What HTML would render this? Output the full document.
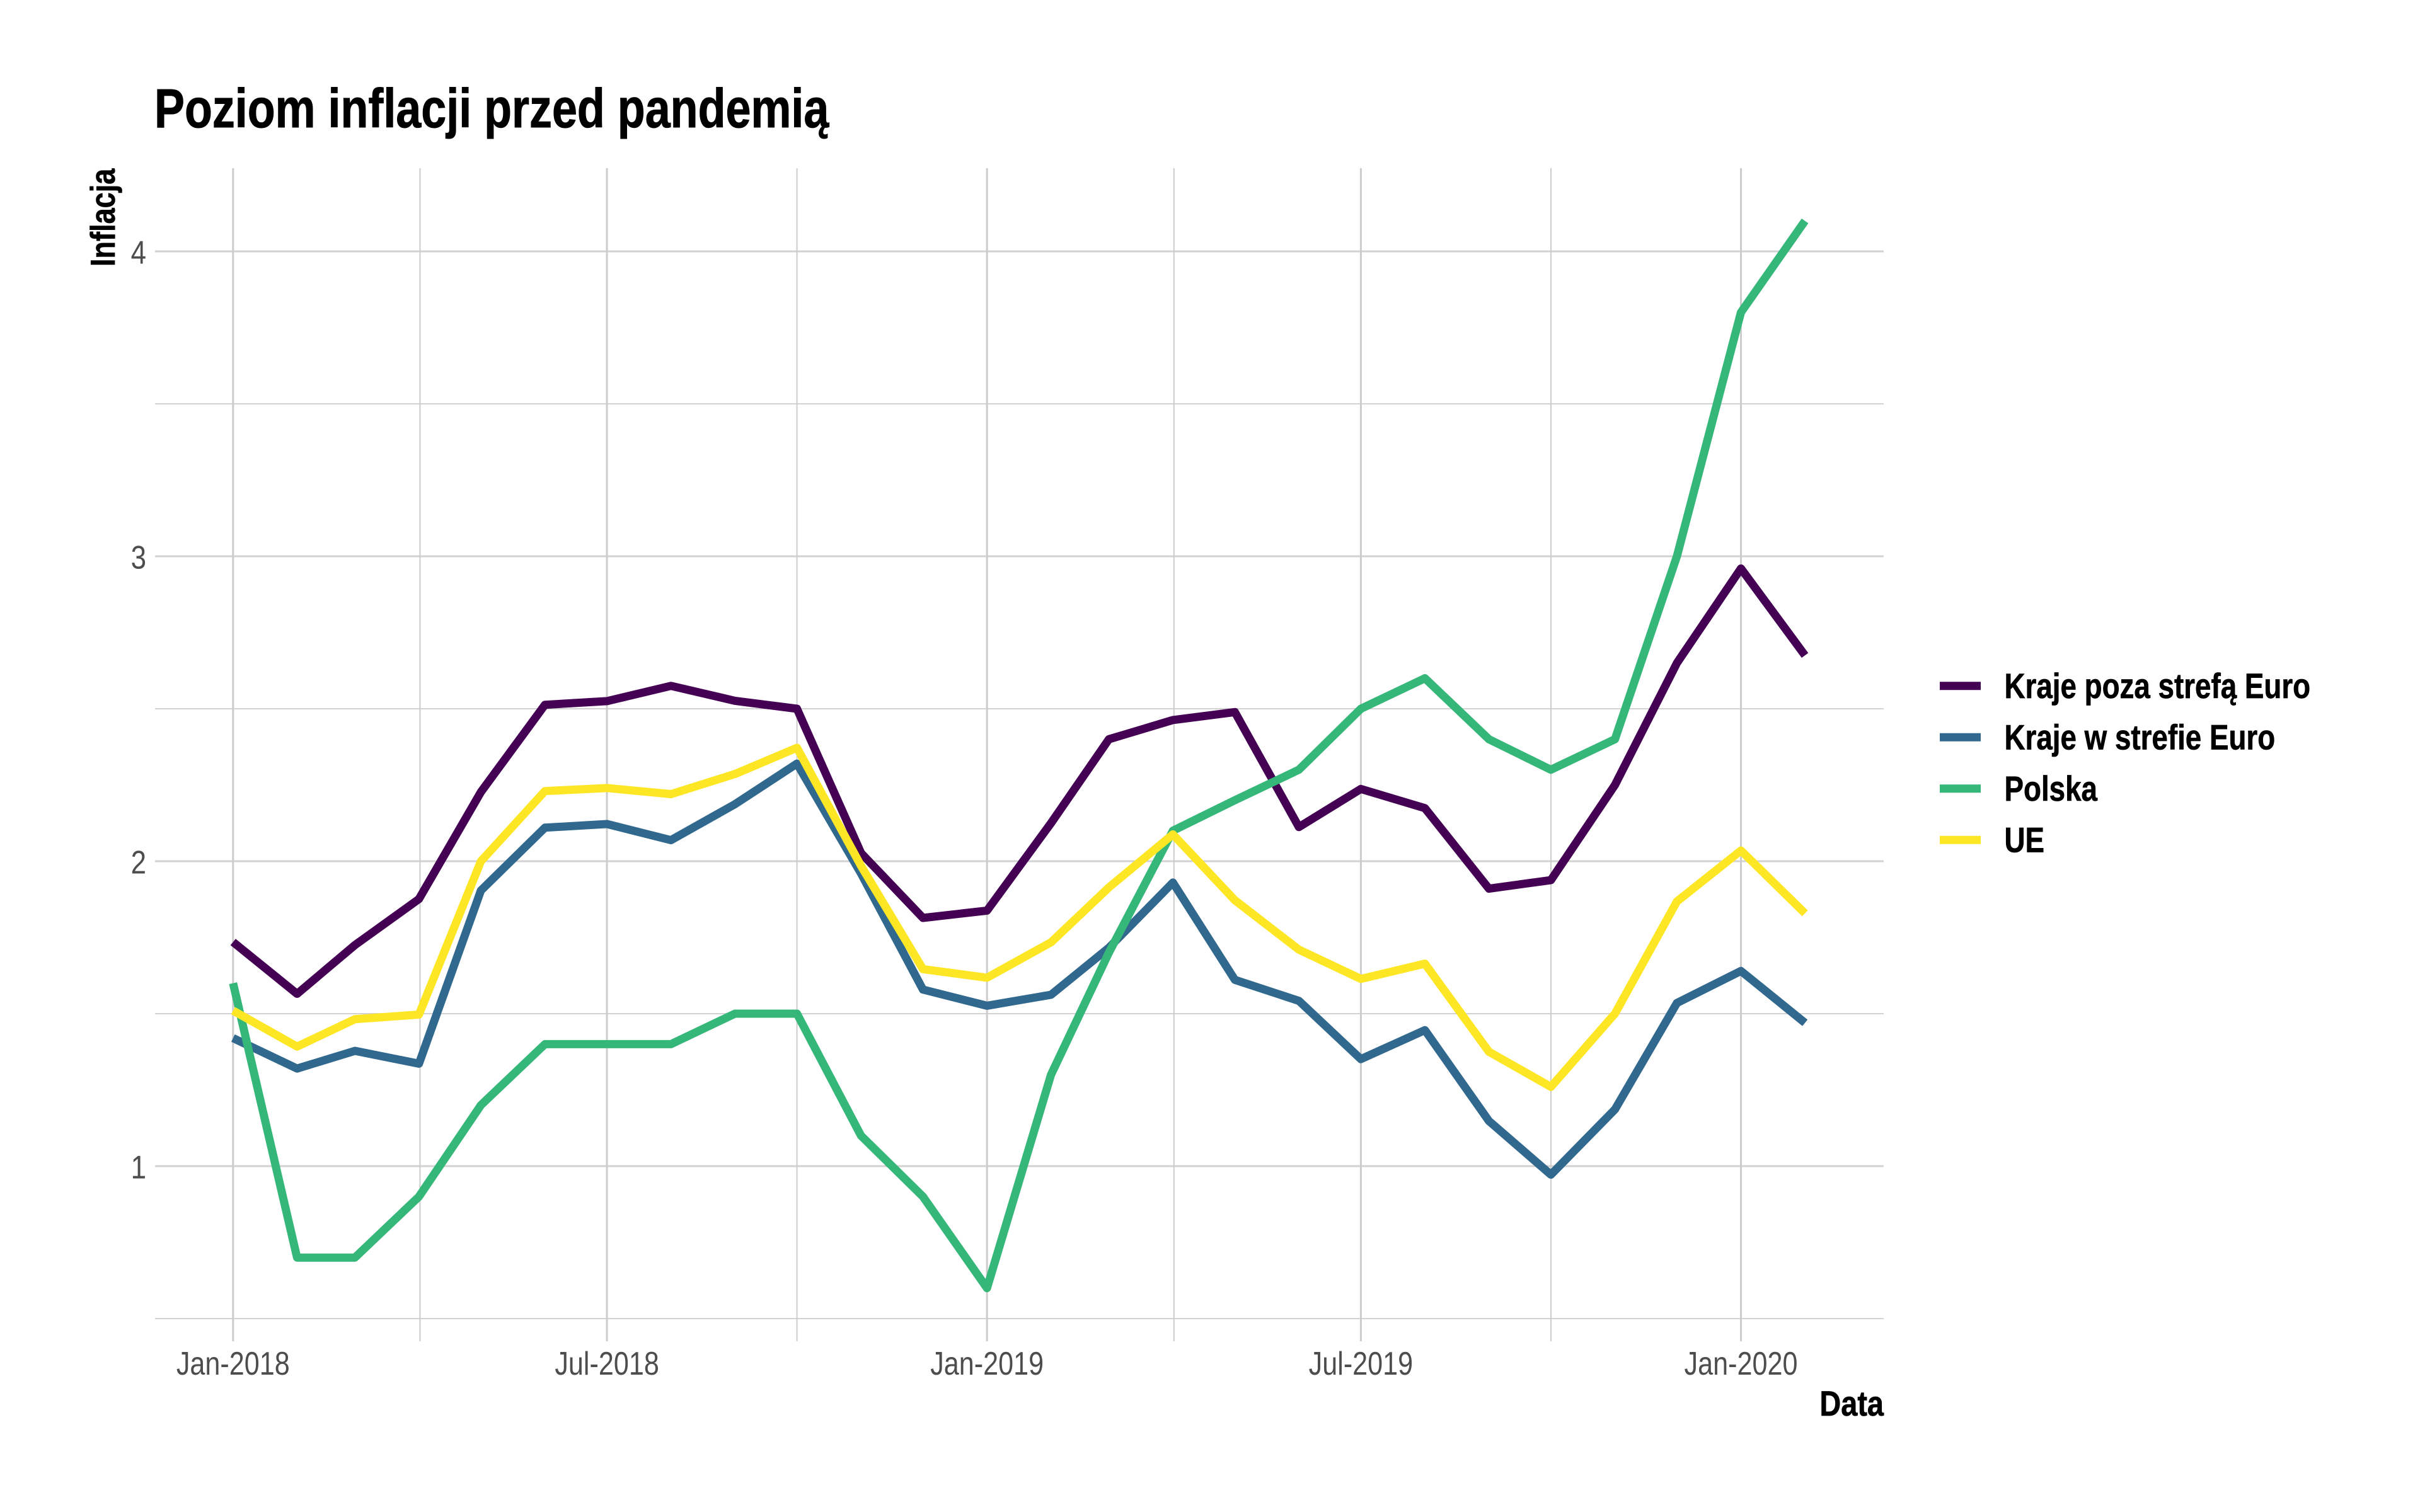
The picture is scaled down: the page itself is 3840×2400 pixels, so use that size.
<!DOCTYPE html>
<html lang="pl">
<head>
<meta charset="utf-8">
<title>Poziom inflacji przed pandemią</title>
<style>
html,body{margin:0;padding:0;background:#fff;width:3840px;height:2400px;overflow:hidden}
svg{display:block}
text{font-family:"Liberation Sans",Arial,sans-serif}
</style>
</head>
<body>
<svg id="chart" xmlns="http://www.w3.org/2000/svg" width="3840" height="2400" viewBox="0 0 3840 2400">
<rect x="0" y="0" width="3840" height="2400" fill="#ffffff"/>
<g id="grid"></g>
<g id="series"></g>
<g id="axis-labels"></g>
<g id="legend"></g>
<text transform="translate(245,202) scale(0.8215,1)" font-size="87.5" font-weight="700" fill="#000000" stroke="#000000" stroke-width="1">Poziom inflacji przed pandemią</text>
<text transform="translate(182,423) rotate(-90) scale(0.82,1)" font-size="55" font-weight="700" fill="#000000" stroke="#000000" stroke-width="0.7">Inflacja</text>
<text transform="translate(2989,2247) scale(0.84,1)" font-size="55.8" font-weight="700" text-anchor="end" fill="#000000" stroke="#000000" stroke-width="0.7">Data</text>
</svg>
<script>
const months = ["2018-01-01","2018-02-01","2018-03-01","2018-04-01","2018-05-01","2018-06-01","2018-07-01","2018-08-01","2018-09-01","2018-10-01","2018-11-01","2018-12-01","2019-01-01","2019-02-01","2019-03-01","2019-04-01","2019-05-01","2019-06-01","2019-07-01","2019-08-01","2019-09-01","2019-10-01","2019-11-01","2019-12-01","2020-01-01","2020-02-01"];
const krajePozaStrefa = [1.735,1.565,1.725,1.876,2.227,2.513,2.525,2.575,2.526,2.5,2.027,1.814,1.838,2.125,2.4,2.463,2.489,2.112,2.237,2.174,1.91,1.938,2.25,2.65,2.96,2.675];
const krajeWStrefie = [1.42,1.32,1.378,1.336,1.904,2.11,2.122,2.069,2.187,2.32,1.96,1.579,1.526,1.562,1.716,1.93,1.611,1.542,1.351,1.446,1.148,0.972,1.186,1.535,1.64,1.47];
const polska = [1.6,0.7,0.7,0.9,1.2,1.4,1.4,1.4,1.5,1.5,1.1,0.9,0.6,1.3,1.7,2.1,2.2,2.3,2.5,2.6,2.4,2.3,2.4,3.0,3.8,4.1];
const ue = [1.51,1.392,1.482,1.497,2.0,2.23,2.24,2.22,2.286,2.372,1.985,1.646,1.618,1.734,1.914,2.088,1.872,1.71,1.614,1.664,1.375,1.26,1.5,1.868,2.035,1.829];
const seriesNames = ["Kraje poza strefą Euro","Kraje w strefie Euro","Polska","UE"];
const seriesValues = [krajePozaStrefa,krajeWStrefie,polska,ue];
const seriesColors = ["#440154","#31688E","#35B779","#FDE725"];
const xTickDates = ["2018-01-01","2018-07-01","2019-01-01","2019-07-01","2020-01-01"];
const xTickLabels = ["Jan-2018","Jul-2018","Jan-2019","Jul-2019","Jan-2020"];
const yTickValues = [1,2,3,4];
const yTickLabels = ["1","2","3","4"];
const yMinorValues = [0.5,1.5,2.5,3.5];

const NS = "http://www.w3.org/2000/svg";
const panel = {left:246, right:2989, top:267, bottom:2129};
const DAY = 86400000;
const X0 = Date.UTC(2018,0,1);
function xScale(dateStr){
  const d = new Date(dateStr + "T00:00:00Z").getTime();
  return 369.8 + (d - X0) / DAY * (2762.5 - 369.8) / 730;
}
function yScale(v){
  return 1367 - (v - 2) * 484;
}
function make(tag, attrs, parent){
  const el = document.createElementNS(NS, tag);
  for (const k in attrs) el.setAttribute(k, attrs[k]);
  parent.appendChild(el);
  return el;
}
const grid = document.getElementById("grid");
const seriesGroup = document.getElementById("series");
const labels = document.getElementById("axis-labels");
const legend = document.getElementById("legend");

yMinorValues.forEach(function(v){
  const l = make("line",{x1:panel.left,x2:panel.right,y1:yScale(v),y2:yScale(v),stroke:"#d2d2d2","stroke-width":2},grid);
  
  
});
yTickValues.forEach(function(v,i){
  const l = make("line",{x1:panel.left,x2:panel.right,y1:yScale(v),y2:yScale(v),stroke:"#d2d2d2","stroke-width":3},grid);
  
  
  const t = make("text",{transform:"translate(232,"+(yScale(v)+19.5)+") scale(0.84,1)","font-size":52.3,"text-anchor":"end",fill:"#4d4d4d"},labels);
  t.textContent = yTickLabels[i];
  
  
});
xTickDates.forEach(function(d,i){
  const x = xScale(d);
  if (i > 0){
    const mx = (xScale(xTickDates[i-1]) + x) / 2;
    const m = make("line",{x1:mx,x2:mx,y1:panel.top,y2:panel.bottom,stroke:"#cccccc","stroke-width":2},grid);
    
    
  }
  const l = make("line",{x1:x,x2:x,y1:panel.top,y2:panel.bottom,stroke:"#cccccc","stroke-width":3},grid);
  
  
  const t = make("text",{transform:"translate("+x+",2182) scale(0.825,1)","font-size":52.3,"text-anchor":"middle",fill:"#4d4d4d"},labels);
  t.textContent = xTickLabels[i];
  
  
});
seriesValues.forEach(function(vals,i){
  const pts = vals.map(function(v,j){ return xScale(months[j]).toFixed(2)+","+yScale(v).toFixed(2); }).join(" ");
  const p = make("polyline",{points:pts,fill:"none",stroke:seriesColors[i],"stroke-width":13,"stroke-linejoin":"round","stroke-linecap":"butt"},seriesGroup);
  
  
  const cy = 1088.7 + i * 81.5;
  const k = make("line",{x1:3078,x2:3143,y1:cy,y2:cy,stroke:seriesColors[i],"stroke-width":13},legend);
  
  
  const t = make("text",{transform:"translate(3180.5,"+(cy+19.5)+") scale(0.82,1)","font-size":55.8,"font-weight":700,fill:"#000000",stroke:"#000000","stroke-width":0.7},legend);
  t.textContent = seriesNames[i];
  
  
});
</script>
</body>
</html>
